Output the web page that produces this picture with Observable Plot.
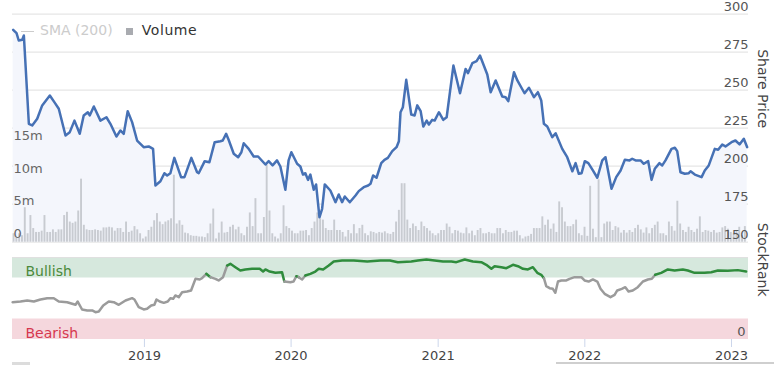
<!DOCTYPE html>
<html><head><meta charset="utf-8">
<script src="https://cdn.jsdelivr.net/npm/d3@7"></script>
<script src="https://cdn.jsdelivr.net/npm/@observablehq/plot@0.6"></script>
<style>
body{margin:0;background:#fff;font-family:"DejaVu Sans",sans-serif;}
#wrap{position:relative;width:774px;height:365px;overflow:hidden;background:#fff;}
#wrap svg{position:absolute;left:0;top:0;}
#legend{position:absolute;left:21px;top:20px;font-size:14px;line-height:20px;z-index:5;white-space:nowrap;}
#legend .dash{display:inline-block;width:13px;height:1px;background:#cccccc;vertical-align:middle;margin-right:6px;}
#legend .sma{color:#cccccc;margin-right:13px;}
#legend .sq{display:inline-block;width:7px;height:7px;background:#a9abb0;vertical-align:middle;margin-right:9px;}
#legend .vol{color:#333333;letter-spacing:0.6px;}
.scroll{position:absolute;height:3px;top:362px;background:#dcdcdc;z-index:5;}
</style></head><body>
<div id="wrap"><div id="legend"><span class="dash"></span><span class="sma">SMA (200)</span><span class="sq"></span><span class="vol">Volume</span></div>
<div class="scroll" style="left:12px;width:18px;"></div><div class="scroll" style="left:556px;width:218px;height:2px;background:#cfcfcf;"></div></div>
<script>
// ---- data ----
const priceYears = [2018.105,2018.128,2018.143,2018.167,2018.178,2018.212,2018.235,2018.269,2018.303,2018.355,2018.387,2018.416,2018.462,2018.491,2018.523,2018.559,2018.586,2018.614,2018.627,2018.655,2018.700,2018.741,2018.768,2018.809,2018.836,2018.859,2018.886,2018.916,2018.950,2018.995,2019.029,2019.059,2019.075,2019.109,2019.136,2019.155,2019.177,2019.204,2019.250,2019.273,2019.320,2019.359,2019.370,2019.411,2019.443,2019.479,2019.518,2019.534,2019.557,2019.574,2019.609,2019.639,2019.661,2019.677,2019.711,2019.745,2019.775,2019.825,2019.847,2019.874,2019.904,2019.927,2019.961,2019.983,2020.002,2020.041,2020.063,2020.081,2020.097,2020.115,2020.131,2020.154,2020.170,2020.193,2020.211,2020.229,2020.267,2020.302,2020.324,2020.347,2020.365,2020.399,2020.438,2020.460,2020.494,2020.524,2020.540,2020.558,2020.581,2020.613,2020.635,2020.658,2020.688,2020.717,2020.733,2020.744,2020.760,2020.783,2020.817,2020.840,2020.858,2020.881,2020.899,2020.922,2020.937,2020.960,2020.976,2021.005,2021.035,2021.058,2021.104,2021.149,2021.187,2021.203,2021.233,2021.262,2021.285,2021.335,2021.358,2021.392,2021.437,2021.460,2021.478,2021.517,2021.540,2021.589,2021.619,2021.653,2021.680,2021.703,2021.721,2021.744,2021.778,2021.801,2021.846,2021.880,2021.915,2021.937,2021.959,2021.978,2022.000,2022.024,2022.055,2022.085,2022.119,2022.141,2022.182,2022.214,2022.244,2022.273,2022.305,2022.323,2022.346,2022.380,2022.402,2022.432,2022.455,2022.477,2022.509,2022.528,2022.550,2022.591,2022.614,2022.630,2022.652,2022.682,2022.709,2022.721,2022.750,2022.796,2022.818,2022.845,2022.886,2022.909,2022.937,2022.959,2023.000,2023.027,2023.055,2023.084,2023.107];
const priceValues = [289.7,287.5,282.7,283.2,286,227.9,226.8,231.2,240,246.5,242,237.8,220.2,222.4,230,221.3,233.4,235.5,233.4,239.3,230,232.2,227.9,219.5,223.5,221.3,236.2,229,216.9,212.5,213,211.4,187.3,190.1,195.4,193.9,195.4,205.5,192.8,192.8,205.5,196,195.4,203.3,202.6,215.8,216.4,216.9,221.3,217.4,208.2,205.9,209.2,215.1,211.4,206.4,206.4,201.1,203.3,200.5,203.8,199.8,184.5,203.8,209.2,201.6,199.8,194.5,195.4,191,194.5,184.5,188,166.4,172,188,184,176.3,181.4,176.3,180.1,176.3,180.7,183.6,186.2,187.3,188.4,193.9,192.4,202,204.2,205.5,209.9,212.5,216.4,235.5,238.8,256.8,234,233.4,240,236.2,226.1,230,227.4,230.5,230,235.5,230.5,232.2,266.2,248,264,261.2,267.8,269.1,272.8,260.3,248.7,256.4,245.9,245.4,242.8,261.8,256.4,248,251.6,245.4,248.7,243.2,227.9,226.1,219.1,221.7,211.4,205.9,196.7,202,195,195.4,203.3,202,197.2,192.4,203.8,205.9,185.1,192.8,197.2,204.2,203.8,204.9,203.8,203.8,201.6,203.3,191,198.3,202,200.5,203.8,211.4,212.1,209.9,196,195,195.4,196.7,194.5,192.8,197.2,200.5,211.4,210.8,214.3,213,215.8,216.9,214.3,218,212.5];

// weekly volume (millions), first week starting 2018-02-07
const volumeFirstWeek = "2018-02-07";
const volumeMillions = [1.3,0.8,1.3,1.0,5.3,1.3,4.1,2.1,1.5,1.5,1.7,4.1,1.5,1.5,1.9,1.5,1.9,1.9,4.1,4.6,3.1,2.9,3.1,4.8,9.7,2.6,1.9,1.8,1.8,1.9,1.8,1.7,2.2,2.2,2.3,2.2,1.7,2.1,2.1,1.5,3.1,1.5,1.7,2.4,1.9,1.3,0.5,0.8,1.8,2.3,3.3,4.4,3.1,2.7,3.1,3.3,3.6,10.3,2.8,3.3,2.6,1.4,1.3,1.0,0.9,0.9,0.8,0.8,0.7,1.3,2.8,5.1,0.5,1.4,3.1,1.4,1.5,2.3,2.6,1.9,2.3,1.3,1.0,2.3,4.5,2.4,6.7,1.3,1.3,3.8,11.8,4.8,1.3,0.8,0.5,1.3,5.6,2.4,2.1,1.7,1.3,1.3,1.7,1.7,1.8,1.0,2.1,3.1,4.5,3.6,3.4,2.1,1.8,1.8,3.4,1.8,1.8,1.5,0.8,1.8,1.3,2.7,1.3,2.1,2.6,1.3,1.0,1.6,1.5,1.3,1.5,1.4,1.6,1.3,1.2,1.5,3.1,4.9,9.0,9.0,3.4,2.1,2.8,2.4,1.8,3.1,2.4,2.1,1.7,1.3,1.0,1.3,1.8,1.8,2.8,2.3,1.3,1.8,1.7,1.4,1.3,2.2,1.3,1.7,1.0,1.8,2.1,1.3,1.3,1.5,1.3,1.3,2.1,2.1,1.3,1.8,1.5,1.5,1.7,1.7,1.0,0.5,0.8,0.9,1.2,2.1,2.1,2.1,3.9,2.6,3.4,2.0,2.8,1.5,6.2,5.3,3.1,2.4,2.4,2.7,3.4,1.3,1.0,2.3,0.9,8.6,2.0,0.7,9.6,0.7,2.8,3.1,3.1,1.8,2.4,2.2,1.4,1.8,1.4,1.8,1.5,2.1,2.6,1.9,1.4,2.2,1.3,2.1,2.6,3.1,1.3,1.3,1.0,3.1,2.4,1.7,6.3,2.8,1.8,1.5,2.3,1.8,1.5,2.0,3.9,1.5,1.8,1.7,1.5,1.8,1.4,1.5,2.2,2.4,2.0,1.5,1.3,1.8,2.3,1.0,2.4];

const rankYears = [2018.101,2018.155,2018.201,2018.246,2018.291,2018.337,2018.382,2018.416,2018.473,2018.530,2018.545,2018.575,2018.610,2018.644,2018.666,2018.689,2018.719,2018.757,2018.791,2018.825,2018.871,2018.916,2018.932,2018.961,2018.995,2019.018,2019.046,2019.068,2019.082,2019.104,2019.132,2019.159,2019.177,2019.196,2019.211,2019.234,2019.257,2019.291,2019.318,2019.348,2019.377,2019.393,2019.422,2019.450,2019.484,2019.506,2019.536,2019.564,2019.586,2019.620,2019.654,2019.688,2019.734,2019.786,2019.809,2019.825,2019.854,2019.893,2019.938,2019.954,2019.995,2020.017,2020.036,2020.051,2020.075,2020.097,2020.131,2020.165,2020.188,2020.218,2020.256,2020.290,2020.347,2020.426,2020.518,2020.608,2020.672,2020.726,2020.817,2020.862,2020.920,2020.976,2021.033,2021.090,2021.124,2021.181,2021.237,2021.294,2021.328,2021.363,2021.385,2021.431,2021.465,2021.510,2021.544,2021.578,2021.612,2021.646,2021.676,2021.703,2021.721,2021.737,2021.760,2021.782,2021.799,2021.817,2021.840,2021.874,2021.896,2021.930,2021.976,2021.998,2022.026,2022.055,2022.085,2022.107,2022.135,2022.175,2022.203,2022.221,2022.252,2022.276,2022.298,2022.327,2022.361,2022.396,2022.430,2022.457,2022.480,2022.521,2022.566,2022.612,2022.668,2022.702,2022.748,2022.816,2022.862,2022.907,2022.975,2023.043,2023.100];
const rankValues = [45.5,46.3,47.6,46.3,48.8,50.4,50.4,46.3,45.5,42.3,46.3,36.6,35.4,35.4,33.3,34.1,41.5,46.3,45.5,42.3,47.6,50.4,48.8,39.4,36.6,37.4,41.5,42.3,48.8,46.3,44.7,46.3,50.4,49.6,53.7,51.6,57.7,58.5,59.8,74,73.2,74.8,80.1,76,74,72,76,90.2,92.3,88.2,84.1,85.4,86.2,86.2,82.9,85.4,82.9,81.3,82.1,70.7,69.9,70.7,77.2,76,73.2,78,80.1,82.9,86.2,85.4,90.2,95.1,96.3,96.3,95.1,96.3,96.3,94.3,95.1,96.3,97.6,96.3,95.1,95.1,94.3,97.6,95.1,94.3,91.1,86.2,89.4,88.2,87,91.1,89.4,86.2,85.4,88.2,81.3,78.9,74.8,65,62.6,61.8,57,70.7,72,72,74,76,76,72,70.7,73.2,70.7,61.8,55.7,51.6,54.5,59.8,61.8,63.8,58.5,59.8,63.8,70.7,73.2,74,78.9,81.3,85.4,84.1,85.4,84.1,81.3,81.3,82.1,84.1,83.7,84.6,82.9];

const priceTicks = [150, 175, 200, 225, 250, 275, 300];
const volumeTicks = [0, 5, 10, 15];
const rankTicks = [0];
const yearTicks = [2019, 2020, 2021, 2022, 2023];
const bullishBand = [75, 100];
const bearishBand = [0, 25];
const bullishLineFrom = 77;
const xDomainYears = [2018.1005, 2023.116];

// ---- helpers ----
function yearToDate(t) {
  const y = Math.floor(t), f = t - y;
  const a = Date.UTC(y, 0, 1), b = Date.UTC(y + 1, 0, 1);
  return new Date(a + f * (b - a));
}
const price = priceYears.map((t, i) => ({date: yearToDate(t), value: priceValues[i]}));
const rank = rankYears.map((t, i) => ({date: yearToDate(t), value: rankValues[i]}));
const v0 = new Date(volumeFirstWeek + "T00:00:00Z");
const volume = volumeMillions.map((v, i) => ({start: d3.utcDay.offset(v0, 7 * i), end: d3.utcDay.offset(v0, 7 * i + 7), v}));
const xDomain = xDomainYears.map(yearToDate);
const yearDates = yearTicks.map(y => new Date(Date.UTC(y, 0, 1)));

const W = 774, ML = 12, MR = 26;
const style = {background: "transparent", fontFamily: "DejaVu Sans, sans-serif", fontSize: "13px", overflow: "visible"};
const topCfg = {width: W, height: 250, marginLeft: ML, marginRight: MR, marginTop: 13.7, marginBottom: 8.3, style,
  x: {type: "utc", domain: xDomain, axis: null}};
const wrap = document.getElementById("wrap");

// layer 1: grid + area
const chartA = Plot.plot({...topCfg,
  y: {domain: [150, 300], axis: null},
  marks: [
    Plot.ruleY(priceTicks, {stroke: "#e6e6e6", strokeWidth: 1.2}),
    Plot.areaY(price, {x: "date", y1: 150, y2: "value", fill: "#f4f6fc", curve: "linear"})
  ]});
wrap.appendChild(chartA);

// layer 2: volume
const chartB = Plot.plot({...topCfg,
  y: {domain: [0, 35.08], axis: null},
  marks: [
    Plot.rectY(volume, {x1: "start", x2: "end", y: "v", fill: "#c8cbd1", insetLeft: 0.45, insetRight: 0.45}),
    Plot.axisY({ticks: volumeTicks, anchor: "left", label: null, tickSize: 0, tickPadding: 0, textAnchor: "start", dx: 1, dy: -8.7,
      tickFormat: d => d === 0 ? "0" : d + "m", fill: "#666", fontSize: 13})
  ]});
wrap.appendChild(chartB);

// layer 3: price line + right axis
const chartC = Plot.plot({...topCfg,
  y: {domain: [150, 300], axis: null},
  marks: [
    Plot.line(price, {x: "date", y: "value", stroke: "#4671b5", strokeWidth: 2.5, curve: "linear"}),
    Plot.axisY({ticks: priceTicks, anchor: "right", label: null, tickSize: 0, tickPadding: 0, textAnchor: "end", dx: 0, dy: -7.5,
      fill: "#555", fontSize: 13}),
    Plot.text(["Share Price"], {text: d => d, frameAnchor: "right", dx: 14, rotate: 90, fontSize: 14, fill: "#444"})
  ]});
wrap.appendChild(chartC);

// layer 4: stockrank panel + x axis
const chartD = Plot.plot({width: W, height: 365, marginLeft: ML, marginRight: MR, marginTop: 257, marginBottom: 26, style,
  x: {type: "utc", domain: xDomain, axis: null},
  y: {domain: [0, 100], axis: null},
  marks: [
    Plot.rect([{lo: bullishBand[0], hi: bullishBand[1]}], {y1: "lo", y2: "hi", fill: "#d6e8dd"}),
    Plot.rect([{lo: bearishBand[0], hi: bearishBand[1]}], {y1: "lo", y2: "hi", fill: "#f5d7dd"}),
    Plot.ruleY([100], {stroke: "#e0e0e0", strokeWidth: 1.2}),
    Plot.text([{t: "Bullish", v: bullishBand[0]}], {text: "t", y: "v", frameAnchor: "left", textAnchor: "start", lineAnchor: "bottom", dx: 13, dy: -2, fill: "#4b8a3b", fontSize: 14}),
    Plot.text([{t: "Bearish", v: bearishBand[0]}], {text: "t", y: "v", frameAnchor: "left", textAnchor: "start", lineAnchor: "bottom", dx: 13, dy: -2, fill: "#d6374f", fontSize: 14}),
    Plot.line(rank, {x: "date", y: "value", z: null, strokeWidth: 2.5,
      stroke: d => d.value >= bullishLineFrom ? "#2f8c3c" : "#9b9b9b"}),
    Plot.axisY({ticks: rankTicks, anchor: "right", label: null, tickSize: 0, tickPadding: 0, textAnchor: "end", dx: -3, dy: -8, fill: "#555", fontSize: 13}),
    Plot.axisX({ticks: yearDates, tickFormat: "%Y", anchor: "bottom", label: null, tickSize: 8, tickPadding: 3.5, stroke: "#ccd6eb", fill: "#444", fontSize: 13}),
    Plot.text(["StockRank"], {text: d => d, frameAnchor: "right", dx: 14, dy: -2, rotate: 90, fontSize: 14, fill: "#444"})
  ]});
wrap.appendChild(chartD);
</script>
</body></html>
